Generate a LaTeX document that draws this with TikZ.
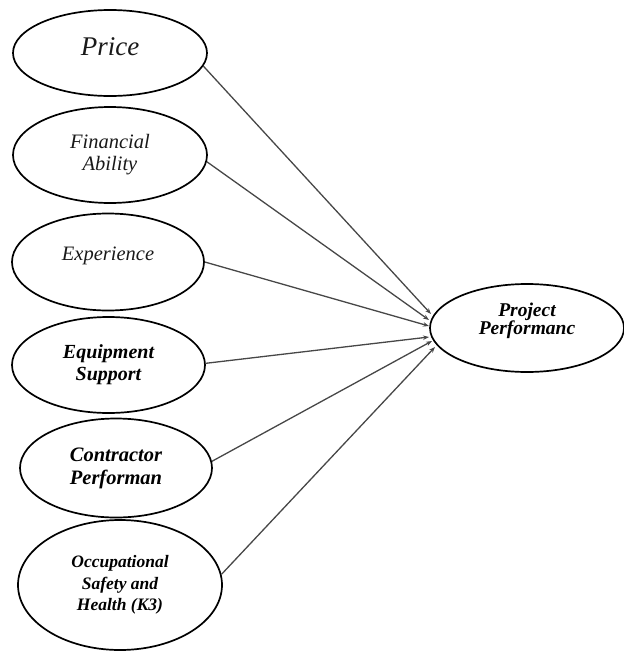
\documentclass[tikz,border=0pt]{standalone}
\usepackage{fontspec}
\setmainfont{Liberation Serif}[
  UprightFont={Liberation Serif},
  ItalicFont={Liberation Serif Italic},
  BoldFont={Liberation Serif Bold},
  BoldItalicFont={Liberation Serif Bold Italic}]
\usetikzlibrary{shapes.geometric,arrows.meta}
\tikzset{
  ell/.style={draw=black, ellipse, line width=1.7pt, inner sep=0pt},
  itxt/.style={align=center, text=black!90},
  btxt/.style={align=center, text=black},
  conn/.style={draw=black!72, line width=1.3pt, -{Stealth[length=6pt,width=4.5pt]}},
}
\begin{document}
\begin{tikzpicture}[x=1pt,y=-1pt]
\useasboundingbox (0,0) rectangle (624,651);
% source ellipses
\node[ell, minimum width=194pt, minimum height=86pt,
  label={[name=pricet, itxt, yshift=6.5pt, font=\itshape\fontsize{27}{30}\selectfont]center:Price}]
  (price) at (110,53) {};
\node[ell, minimum width=194pt, minimum height=96pt,
  label={[name=fint, itxt, font=\itshape\fontsize{20.5}{22}\selectfont]center:Financial\\Ability}]
  (fin) at (110,155) {};
\node[ell, minimum width=192pt, minimum height=97pt,
  label={[name=expt, itxt, yshift=6.5pt, font=\itshape\fontsize{20.5}{22}\selectfont]center:Experience}]
  (exp) at (108,262) {};
\node[ell, minimum width=193pt, minimum height=96pt,
  label={[name=equt, btxt, font=\bfseries\itshape\fontsize{20}{22}\selectfont]center:Equipment\\Support}]
  (equ) at (108.5,365) {};
\node[ell, minimum width=192pt, minimum height=99pt,
  label={[name=cont, btxt, font=\bfseries\itshape\fontsize{20.5}{23}\selectfont]center:Contractor\\Performan}]
  (con) at (116,468) {};
\node[ell, minimum width=204pt, minimum height=130pt,
  label={[name=occt, btxt, font=\bfseries\itshape\fontsize{17.5}{21.5}\selectfont]center:Occupational\\Safety and\\Health (K3)}]
  (occ) at (120,585) {};
% target ellipse
\node[ell, minimum width=194pt, minimum height=88pt,
  label={[name=ppt, btxt, yshift=7pt, font=\bfseries\itshape\fontsize{19.5}{18}\selectfont]center:Project\\Performanc}]
  (pp) at (527,328) {};
% arrow end points on the target ellipse
\coordinate (t1) at (431,314);
\coordinate (t2) at (429,320);
\coordinate (t3) at (429,326);
\coordinate (t4) at (429,337);
\coordinate (t5) at (432,341);
\coordinate (t6) at (435,347);
% connectors
\draw[conn] (price.-8.6) -- (t1);
\draw[conn] (fin.-4.7) -- (t2);
\draw[conn] (exp.0) -- (t3);
\draw[conn] (equ.1.2) -- (t4);
\draw[conn] (con.4.8) -- (t5);
\draw[conn] (occ.6.9) -- (t6);
\end{tikzpicture}
\end{document}
